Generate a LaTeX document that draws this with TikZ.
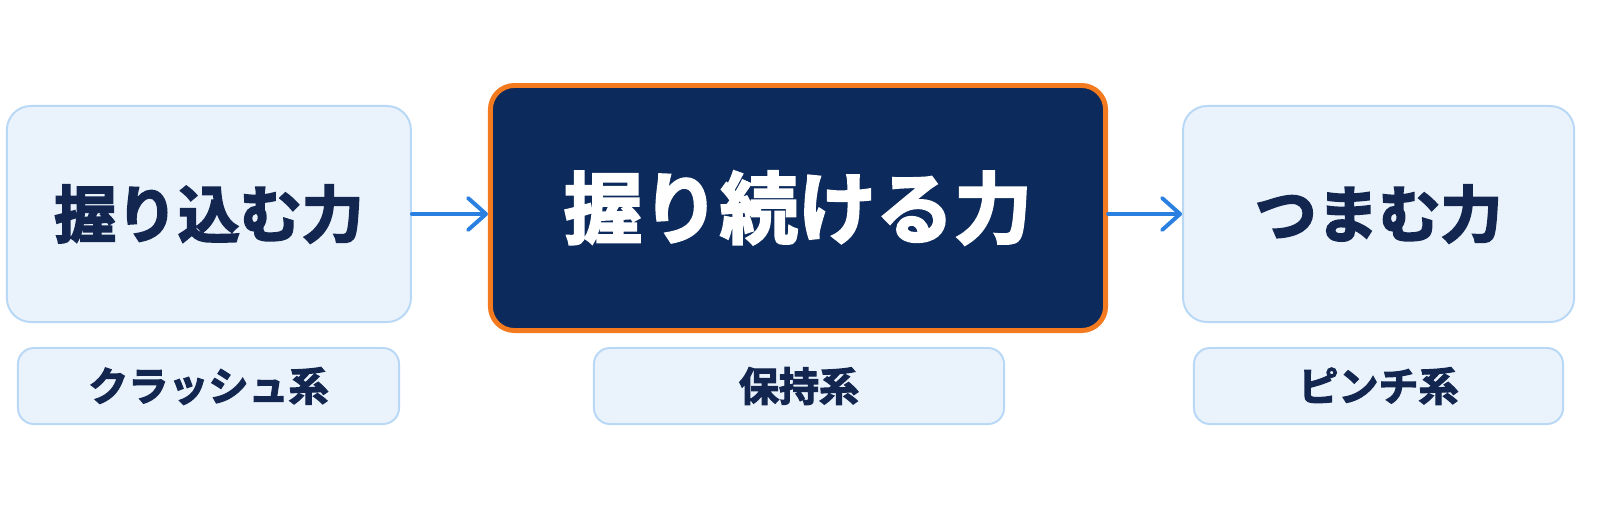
\documentclass[tikz,border=0pt]{standalone}
\usepackage{fontspec}
\setmainfont{Noto Sans CJK JP}[BoldFont={Noto Sans CJK JP Bold}, BoldFeatures={FakeBold=3}]
\usepackage{tikz}
\usetikzlibrary{positioning, arrows.meta}
\definecolor{boxfill}{HTML}{EAF3FC}
\definecolor{boxline}{HTML}{B9D8F5}
\definecolor{navy}{HTML}{0C2A5C}
\definecolor{inktext}{HTML}{13264F}
\definecolor{hilite}{HTML}{F47A1F}
\definecolor{flow}{HTML}{2A80E0}
\tikzset{
forcebox/.style={draw=boxline, line width=1.4pt, fill=boxfill, rounded corners=0.6cm, text=inktext, font=\bfseries\fontsize{44}{48}\selectfont, minimum height=5.4cm, inner sep=0pt}, % light boxes
mainbox/.style={forcebox, draw=hilite, line width=3.5pt, fill=navy, text=white, font=\bfseries\fontsize{55.5}{60}\selectfont, minimum width=15.375cm, minimum height=6.125cm}, % the highlighted one
tagbox/.style={draw=boxline, line width=1.4pt, fill=boxfill, rounded corners=0.4cm, text=inktext, font=\bfseries\fontsize{28.5}{32}\selectfont, minimum height=1.9cm, inner sep=0pt}, % small labels
flowarrow/.style={draw=flow, line width=2.8pt, line cap=round, -{Straight Barb[length=0.45cm, width=0.8cm, line cap=round, line join=round]}},
}
\begin{document}
\begin{tikzpicture}[x=0.025cm, y=-0.025cm]
\useasboundingbox (0,0) rectangle (1600,509);
\node[mainbox] (hold) at (798,208) {握り続ける力};
\node[forcebox, minimum width=10.1cm, left=1.9cm of hold, yshift=-0.15cm] (crush) {握り込む力};
\node[forcebox, minimum width=9.775cm, right=1.85cm of hold, yshift=-0.15cm] (pinch) {つまむ力};
% labels under the boxes
\node[tagbox, minimum width=9.525cm] (crushtag) at (208.5,386) {クラッシュ系};
\node[tagbox, minimum width=10.25cm] (holdtag) at (799,386) {保持系};
\node[tagbox, minimum width=9.225cm] (pinchtag) at (1378.5,386) {ピンチ系};
% arrows
\draw[flowarrow] (crush.east) -- (crush.east -| hold.west);
\draw[flowarrow] (hold.east |- pinch.west) -- (pinch.west);
\end{tikzpicture}
\end{document}
